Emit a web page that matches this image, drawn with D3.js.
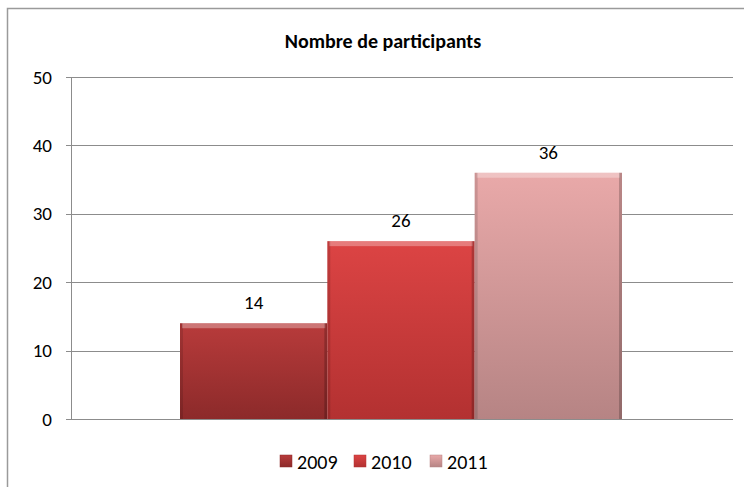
<!DOCTYPE html>
<html>
<head>
<meta charset="utf-8">
<script src="https://cdn.jsdelivr.net/npm/d3@7"></script>
<style>
body { margin: 0; background: #fff; }
text { font-family: Carlito, Lato, "Open Sans", sans-serif; fill: #000; }
</style>
</head>
<body>
<script>
var w = 744;
var h = 487;

var years = ["2009", "2010", "2011"];
var values = [14, 26, 36];
var yTicks = [0, 10, 20, 30, 40, 50];
var title = "Nombre de participants";

// gradient colours per series: top, bottom
var colTop = ["#b83b3b", "#dc4444", "#e9a9a9"];
var colBot = ["#8c2a2a", "#b33131", "#b68484"];

var mLeft = 71, mRight = 733, mTop = 77, mBottom = 419;

var svg = d3.select("body")
            .append("svg")
            .attr("width", w)
            .attr("height", h);

var defs = svg.append("defs");
years.forEach(function(y, i){
    var g = defs.append("linearGradient")
        .attr("id", "g" + i)
        .attr("x1", 0).attr("y1", 0).attr("x2", 0).attr("y2", 1);
    g.append("stop").attr("offset", "0%").attr("stop-color", colTop[i]);
    g.append("stop").attr("offset", "100%").attr("stop-color", colBot[i]);
});

// chart frame
svg.append("rect")
    .attr("x", 7.5).attr("y", 8.5)
    .attr("width", 770).attr("height", 500)
    .attr("fill", "none")
    .attr("stroke", "#9a9a9a")
    .attr("stroke-width", 1.5);

svg.append("text")
    .attr("x", 383).attr("y", 48)
    .attr("text-anchor", "middle")
    .attr("font-size", "20px")
    .attr("font-weight", "bold")
    .text(title);

var y = d3.scaleLinear().domain([0, 50]).range([mBottom, mTop]);

// one category, bars with a wide gap either side
var x0 = d3.scaleBand().domain(["all"]).range([mLeft, mRight]);
var x1 = d3.scaleBand().domain(years)
    .range([x0("all") + 109, x0("all") + x0.bandwidth() - 111])
    .padding(0);

// gridlines
svg.append("g").selectAll("line")
    .data(yTicks)
    .enter()
    .append("line")
    .attr("x1", mLeft - 5).attr("x2", mRight)
    .attr("y1", function(d){ return Math.round(y(d)) + 0.5; })
    .attr("y2", function(d){ return Math.round(y(d)) + 0.5; })
    .attr("stroke", "#8c8c8c")
    .attr("stroke-width", 1);

svg.append("line")
    .attr("x1", mLeft + 0.5).attr("x2", mLeft + 0.5)
    .attr("y1", mTop).attr("y2", mBottom + 1)
    .attr("stroke", "#8c8c8c");

svg.append("g").selectAll("text")
    .data(yTicks)
    .enter()
    .append("text")
    .attr("x", 52)
    .attr("y", function(d){ return y(d) + 6.5; })
    .attr("text-anchor", "end")
    .attr("font-size", "19px")
    .text(function(d){ return d; });

// bars
var bars = svg.append("g").selectAll("g")
    .data(values)
    .enter()
    .append("g");

bars.append("rect")
    .attr("x", function(d, i){ return x1(years[i]); })
    .attr("y", function(d){ return y(d); })
    .attr("width", x1.bandwidth())
    .attr("height", function(d){ return mBottom - y(d); })
    .attr("fill", function(d, i){ return "url(#g" + i + ")"; });

// bevel: light top strip, dark sides
bars.append("rect")
    .attr("x", function(d, i){ return x1(years[i]) + 2; })
    .attr("y", function(d){ return y(d); })
    .attr("width", x1.bandwidth() - 4)
    .attr("height", 5)
    .attr("fill", "#fff")
    .attr("opacity", 0.3);

bars.append("rect")
    .attr("x", function(d, i){ return x1(years[i]); })
    .attr("y", function(d){ return y(d); })
    .attr("width", 3)
    .attr("height", function(d){ return mBottom - y(d); })
    .attr("fill", "#000")
    .attr("opacity", 0.12);

bars.append("rect")
    .attr("x", function(d, i){ return x1(years[i]) + x1.bandwidth() - 3; })
    .attr("y", function(d){ return y(d); })
    .attr("width", 3)
    .attr("height", function(d){ return mBottom - y(d); })
    .attr("fill", "#000")
    .attr("opacity", 0.2);

bars.append("text")
    .attr("x", function(d, i){ return x1(years[i]) + x1.bandwidth() / 2; })
    .attr("y", function(d){ return y(d) - 14; })
    .attr("text-anchor", "middle")
    .attr("font-size", "19px")
    .text(function(d){ return d; });

// legend
var legX = [280, 354, 430];
var leg = svg.append("g").selectAll("g")
    .data(years)
    .enter()
    .append("g")
    .attr("transform", function(d, i){ return "translate(" + legX[i] + ",455)"; });

leg.append("rect")
    .attr("width", 12).attr("height", 12)
    .attr("fill", function(d, i){ return "url(#g" + i + ")"; })
    .attr("stroke", function(d, i){ return colBot[i]; })
    .attr("stroke-width", 0.5);

leg.append("text")
    .attr("x", 17).attr("y", 13.5)
    .attr("font-size", "20px")
    .text(function(d){ return d; });
</script>
</body>
</html>
